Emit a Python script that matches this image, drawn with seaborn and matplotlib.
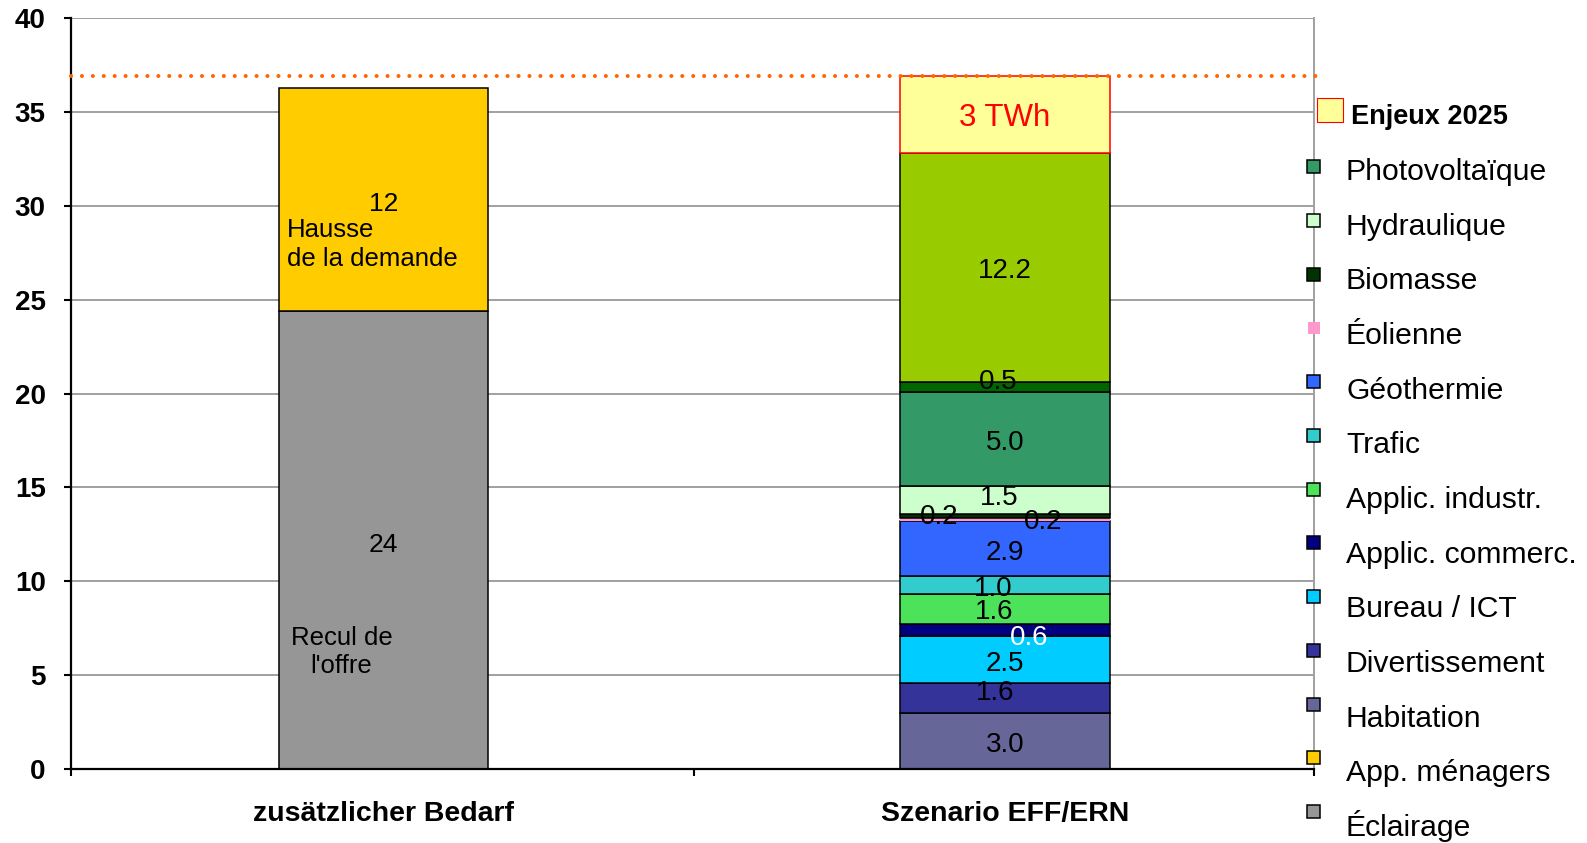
import matplotlib
matplotlib.use("Agg")
import numpy as np
import pandas as pd
import matplotlib.pyplot as plt
from matplotlib.patches import Rectangle
import seaborn as sns

# ---------------- data (TWh) ----------------
categories = ["zusätzlicher Bedarf", "Szenario EFF/ERN"]

eclairage      = [24.4, 0.0]
app_menagers   = [11.9, 0.0]
habitation     = [0.0, 3.0]
divertissement = [0.0, 1.6]
bureau_ict     = [0.0, 2.5]
applic_commerc = [0.0, 0.6]
applic_industr = [0.0, 1.6]
trafic         = [0.0, 1.0]
geothermie     = [0.0, 2.9]
eolienne       = [0.0, 0.2]
biomasse       = [0.0, 0.2]
hydraulique    = [0.0, 1.5]
photovoltaique = [0.0, 5.0]
complement_a   = [0.0, 0.5]
complement_b   = [0.0, 12.2]
enjeux_2025    = [0.0, 4.1]

y_ticks = [0, 5, 10, 15, 20, 25, 30, 35, 40]
enjeux_text = "3 TWh"
demand_text = ["Hausse", "de la demande"]
supply_text = ["Recul de", "l'offre"]

# stacking order, bottom to top
stack = [
    ("Éclairage", eclairage),
    ("App. ménagers", app_menagers),
    ("Habitation", habitation),
    ("Divertissement", divertissement),
    ("Bureau / ICT", bureau_ict),
    ("Applic. commerc.", applic_commerc),
    ("Applic. industr.", applic_industr),
    ("Trafic", trafic),
    ("Géothermie", geothermie),
    ("Éolienne", eolienne),
    ("Biomasse", biomasse),
    ("Hydraulique", hydraulique),
    ("Photovoltaïque", photovoltaique),
    ("_complement_a", complement_a),
    ("_complement_b", complement_b),
    ("Enjeux 2025", enjeux_2025),
]

# ---------------- styles ----------------
# off = label offset in pixels (dx, dy) from the segment centre, dy measured upward
STYLE = {
    "Éclairage":        dict(face="#969696", edge="black",   lc="black", off=(0, -2.4), fmt="{:.0f}"),
    "App. ménagers":    dict(face="#FFCC00", edge="black",   lc="black", off=(0, -2.4), fmt="{:.0f}"),
    "Habitation":       dict(face="#666699", edge="black",   lc="black", off=(0, -1)),
    "Divertissement":   dict(face="#333399", edge="black",   lc="black", off=(-10, 7.7)),
    "Bureau / ICT":     dict(face="#00CCFF", edge="black",   lc="black", off=(0, -1.5)),
    "Applic. commerc.": dict(face="#000080", edge="black",   lc="white", off=(24, -4.9)),
    "Applic. industr.": dict(face="#4CE35A", edge="black",   lc="black", off=(-11, 0.5)),
    "Trafic":           dict(face="#33CCCC", edge="black",   lc="black", off=(-12, -0.6)),
    "Géothermie":       dict(face="#3366FF", edge="black",   lc="black", off=(0, -2)),
    "Éolienne":         dict(face="#FF99CC", edge="none",    lc="black", off=(38, 0.4)),
    "Biomasse":         dict(face="#003300", edge="black",   lc="black", off=(-66, 1.6)),
    "Hydraulique":      dict(face="#CCFFCC", edge="black",   lc="black", off=(-6, 4.6)),
    "Photovoltaïque":   dict(face="#339966", edge="black",   lc="black", off=(0, -1.4)),
    "_complement_a":    dict(face="#006600", edge="black",   lc="black", off=(-7, 8)),
    "_complement_b":    dict(face="#99CC00", edge="black",   lc="black", off=(0, 0)),
    "Enjeux 2025":      dict(face="#FFFF99", edge="#FF0000", lc="#FF0000", off=(0, 0)),
}

legend_order = ["Enjeux 2025", "Photovoltaïque", "Hydraulique", "Biomasse", "Éolienne",
                "Géothermie", "Trafic", "Applic. industr.", "Applic. commerc.",
                "Bureau / ICT", "Divertissement", "Habitation", "App. ménagers", "Éclairage"]

W, H, DPI = 1587, 843, 100
PT2PX = DPI / 72.0
BAR_W = 0.337
EDGE_LW = 1.1
VAL_FS_RIGHT = 20
VAL_FS_LEFT = 19
NOTE_FS = 18.5

sns.set_style("white")
plt.rcParams["font.family"] = ["Liberation Sans", "DejaVu Sans"]
for k in ["text.color", "axes.labelcolor", "xtick.color", "ytick.color"]:
    plt.rcParams[k] = "black"

fig = plt.figure(figsize=(W / DPI, H / DPI), dpi=DPI)
ax = fig.add_axes([70.8 / W, 1 - 769 / H, (1313.7 - 70.8) / W, (769 - 18.3) / H])


def cap_half(fs):
    return 0.716 * fs * PT2PX / 2.0


bottoms = np.zeros(len(categories))
for name, vals in stack:
    st = STYLE[name]
    df = pd.DataFrame({"categorie": categories, "valeur": vals})
    sns.barplot(data=df, x="categorie", y="valeur", order=categories,
                color=st["face"], saturation=1, width=BAR_W, errorbar=None,
                bottom=bottoms.copy(), edgecolor=st["edge"],
                linewidth=EDGE_LW, ax=ax, zorder=2)
    cont = ax.containers[-1]
    for patch, v in zip(cont.patches, vals):
        if v == 0:
            patch.set_visible(False)
    for i, v in enumerate(vals):
        if v == 0:
            continue
        centre = bottoms[i] + v / 2.0
        dx, dy = st["off"]
        if name == "Enjeux 2025":
            txt, fs = enjeux_text, 22.5
        else:
            txt = st.get("fmt", "{:.1f}").format(v)
            fs = VAL_FS_LEFT if i == 0 else VAL_FS_RIGHT
        ax.annotate(txt, xy=(i, centre), xytext=(dx, dy - cap_half(fs)),
                    textcoords="offset pixels", ha="center", va="baseline",
                    fontsize=fs, color=st["lc"], zorder=5)
    bottoms += np.asarray(vals, dtype=float)

# notes inside the left bar
seg_gold = eclairage[0] + app_menagers[0] / 2.0
seg_grey = eclairage[0] / 2.0
left_edge = 0 - BAR_W / 2.0
for j, line in enumerate(demand_text):
    ax.annotate(line, xy=(left_edge, seg_gold),
                xytext=(8.4, -(28.4 + 29.0 * j) - cap_half(NOTE_FS)),
                textcoords="offset pixels", ha="left", va="baseline",
                fontsize=NOTE_FS, zorder=5)
for j, line in enumerate(supply_text):
    ax.annotate(line, xy=(0, seg_grey),
                xytext=(-42, -(95.5 + 28.4 * j) - cap_half(NOTE_FS)),
                textcoords="offset pixels", ha="center", va="baseline",
                fontsize=NOTE_FS, zorder=5)

# target level (top of the scenario stack)
ax.axhline(bottoms[1], xmin=0, xmax=1.006, color="#FF6600", linewidth=2.9,
           linestyle=(0, (0.01, 2.7)), dash_capstyle="round", zorder=6,
           clip_on=False)

# axes styling
ax.set_xlim(-0.503, 1.497)
ax.set_ylim(0, 40)
ax.set_yticks(y_ticks)
ax.set_yticklabels([str(t) for t in y_ticks], fontweight="bold", fontsize=20)
ax.set_xticks(range(len(categories)))
ax.set_xticklabels(categories, fontweight="bold", fontsize=20.5)
ax.set_xticks([-0.503, 0.5, 1.497], minor=True)
ax.set_xlabel("")
ax.set_ylabel("")
ax.tick_params(axis="x", which="major", bottom=True, length=0, pad=23)
ax.tick_params(axis="x", which="minor", bottom=True, length=5, width=1.5,
               direction="out", color="black")
ax.tick_params(axis="y", which="major", left=True, length=5, width=1.5,
               direction="out", pad=13, color="black")
ax.yaxis.grid(True, color="#A0A0A0", linewidth=1.4)
ax.xaxis.grid(False)
ax.set_axisbelow(True)
for s in ["left", "bottom"]:
    ax.spines[s].set_color("black")
    ax.spines[s].set_linewidth(1.6)
ax.spines["top"].set_visible(False)
ax.spines["right"].set_color("#A0A0A0")
ax.spines["right"].set_linewidth(1.4)

# legend, drawn along the right-hand axis line
LEG_X = 1313.7
MARK_Y0 = 112.95     # marker centre of the first row
MARK_DY = 53.75
TEXT_Y0 = 125.3      # text baseline of the first row
TEXT_DY = 54.67
LEG_FS = 21.7
ENJ_FS = 19.5


def fx(px):
    return px / W


def fy(py):
    return 1 - py / H


for k, name in enumerate(legend_order):
    st = STYLE[name]
    yc = MARK_Y0 + k * MARK_DY
    yt = TEXT_Y0 + k * TEXT_DY
    if name == "Enjeux 2025":
        fig.add_artist(Rectangle((fx(1317), fy(yc - 3 + 12)), 26 / W, 24 / H,
                                 transform=fig.transFigure, facecolor=st["face"],
                                 edgecolor=st["edge"], linewidth=0.8, zorder=3))
        fig.text(fx(1350.7), fy(yt - 1), name, fontsize=ENJ_FS,
                 fontweight="bold", va="baseline", ha="left")
    else:
        s = 12 if st["edge"] == "none" else 13
        fig.add_artist(Rectangle((fx(LEG_X - s / 2), fy(yc + s / 2)), s / W, s / H,
                                 transform=fig.transFigure, facecolor=st["face"],
                                 edgecolor=st["edge"], linewidth=1.1, zorder=3))
        fig.text(fx(1346), fy(yt), name, fontsize=LEG_FS,
                 va="baseline", ha="left")

fig.savefig("out.png", dpi=DPI)
